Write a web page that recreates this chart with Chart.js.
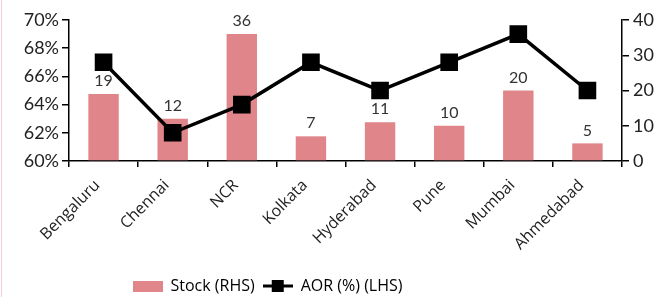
<!DOCTYPE html>
<html>
<head>
<meta charset="utf-8">
<script src="https://cdn.jsdelivr.net/npm/chart.js@4/dist/chart.umd.min.js"></script>
<style>
  html, body { margin: 0; padding: 0; background: #fff; }
  #wrap { position: relative; width: 667px; height: 297px; }
  #wrap::before { content: ""; position: absolute; left: 1px; top: 0; bottom: 0; width: 1px; background: #f3cdd1; }
</style>
</head>
<body>
<div id="wrap"><canvas id="chart" width="667" height="297"></canvas></div>
<script>
const cities = ["Bengaluru", "Chennai", "NCR", "Kolkata", "Hyderabad", "Pune", "Mumbai", "Ahmedabad"];
const stock = [19, 12, 36, 7, 11, 10, 20, 5];
const aor = [67, 62, 64, 67, 65, 67, 69, 65];
const leftTicks = [60, 62, 64, 66, 68, 70];
const rightTicks = [0, 10, 20, 30, 40];

const barColor = "#e0858a";
const numFont = "Lato, 'DejaVu Sans', sans-serif";
const textFont = "'Open Sans', 'Noto Sans', sans-serif";

// legend swatches
const barSwatch = document.createElement("canvas");
barSwatch.width = 30; barSwatch.height = 11;
let c = barSwatch.getContext("2d");
c.fillStyle = barColor; c.fillRect(0, 0, 30, 11);

const lineSwatch = document.createElement("canvas");
lineSwatch.width = 30; lineSwatch.height = 14;
c = lineSwatch.getContext("2d");
c.fillStyle = "#000";
c.fillRect(0, 5.5, 30, 3);
c.fillRect(9, 1, 12, 12);

const valueLabels = {
  id: "valueLabels",
  afterDatasetsDraw(chart) {
    const ctx = chart.ctx;
    const meta = chart.getDatasetMeta(1);
    ctx.save();
    ctx.font = "16px " + numFont;
    ctx.fillStyle = "#333";
    ctx.textAlign = "center";
    ctx.textBaseline = "bottom";
    meta.data.forEach((bar, i) => {
      ctx.fillText(String(stock[i]), bar.x, bar.y - 5);
    });
    ctx.restore();
  }
};

const shiftLegend = {
  id: "shiftLegend",
  afterLayout(chart) {
    chart.legend.left -= 66;
    chart.legend.right -= 66;
    chart.legend.top += 7;
    chart.legend.bottom += 7;
  }
};

new Chart(document.getElementById("chart"), {
  data: {
    labels: cities,
    datasets: [
      {
        type: "line",
        label: "AOR (%) (LHS)",
        data: aor,
        yAxisID: "yL",
        borderColor: "#000",
        backgroundColor: "#000",
        borderWidth: 3.5,
        pointStyle: "rect",
        pointRadius: 10,
        pointHoverRadius: 10,
        tension: 0,
        order: 0
      },
      {
        type: "bar",
        label: "Stock (RHS)",
        data: stock,
        yAxisID: "yR",
        backgroundColor: barColor,
        categoryPercentage: 1,
        barPercentage: 0.44,
        order: 1
      }
    ]
  },
  options: {
    responsive: false,
    animation: false,
    layout: { padding: { top: 20, bottom: 0 } },
    plugins: {
      tooltip: { enabled: false },
      legend: {
        position: "bottom",
        labels: {
          usePointStyle: true,
          pointStyleWidth: 30,
          padding: 8,
          color: "#222",
          font: { family: textFont, size: 16 },
          generateLabels: () => [
            { text: "Stock (RHS)", pointStyle: barSwatch, fillStyle: barColor, strokeStyle: barColor, lineWidth: 0, datasetIndex: 1 },
            { text: "AOR (%) (LHS)", pointStyle: lineSwatch, fillStyle: "#000", strokeStyle: "#000", lineWidth: 0, datasetIndex: 0 }
          ]
        }
      }
    },
    scales: {
      x: {
        offset: true,
        grid: { display: true, drawOnChartArea: false, drawTicks: true, tickLength: 6, color: "#000", lineWidth: 1.5, offset: true },
        border: { color: "#000", width: 1.5 },
        ticks: {
          autoSkip: false,
          minRotation: 45,
          maxRotation: 45,
          padding: 9,
          labelOffset: -6,
          color: "#222",
          font: { family: textFont, size: 16 }
        },
        afterFit(scale) { scale.height = 102; }
      },
      yL: {
        position: "left",
        min: 60,
        max: 70,
        afterBuildTicks(scale) { scale.ticks = leftTicks.map(v => ({ value: v })); },
        grid: { drawOnChartArea: false, drawTicks: true, tickLength: 7, color: "#000", lineWidth: 1.5 },
        border: { color: "#000", width: 1.5 },
        ticks: {
          color: "#222",
          padding: 3,
          font: { family: numFont, size: 18 },
          callback: v => v + "%"
        },
        afterFit(scale) { scale.width = 69; }
      },
      yR: {
        position: "right",
        min: 0,
        max: 40,
        afterBuildTicks(scale) { scale.ticks = rightTicks.map(v => ({ value: v })); },
        grid: { drawOnChartArea: false, drawTicks: true, tickLength: 7, color: "#000", lineWidth: 1.5 },
        border: { color: "#000", width: 1.5 },
        ticks: {
          color: "#222",
          padding: 4,
          font: { family: numFont, size: 18 }
        },
        afterFit(scale) { scale.width = 45; }
      }
    }
  },
  plugins: [valueLabels, shiftLegend]
});
</script>
</body>
</html>
